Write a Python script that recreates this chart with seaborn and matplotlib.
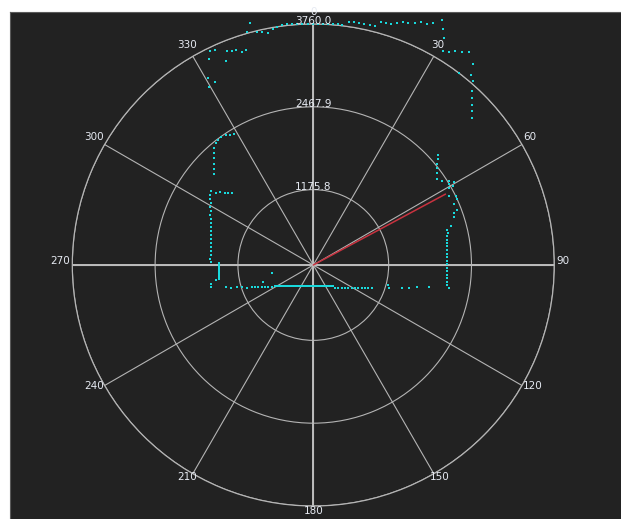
import numpy as np
import pandas as pd
import matplotlib
matplotlib.use("Agg")
import matplotlib.pyplot as plt
import seaborn as sns

# lidar scan, angle in degrees (clockwise from north) and distance in mm
top_arc_deg = [345.3, 344.2, 346.4, 347.6, 349.0, 350.3, 351.4, 352.6, 353.8, 355.0,
               356.2, 357.4, 358.7, 359.9, 1.0, 2.2, 3.4, 4.6, 5.8, 6.9,
               8.3, 9.5, 10.6, 11.8, 13.2, 14.5, 15.5, 16.7, 17.9, 19.1,
               20.3, 21.4, 22.8, 24.0, 25.3, 26.4]
top_arc_mm = [3902, 3773, 3739, 3716, 3688, 3740, 3755, 3775, 3781, 3774,
              3768, 3764, 3761, 3760, 3760, 3763, 3766, 3772, 3774, 3776,
              3827, 3838, 3836, 3841, 3850, 3850, 3930, 3941, 3950, 3995,
              4036, 4056, 4095, 4143, 4157, 4214]

top_right_deg = [27.6, 28.8, 30.0, 31.2, 32.5, 33.6, 34.9, 36.1, 38.5, 37.3,
                 39.7, 41.0, 42.3, 43.5, 44.7, 45.8, 47.1]
top_right_mm = [4320, 4207, 4093, 3897, 3940, 4000, 4053, 4113, 3998, 3763,
                3856, 3794, 3674, 3593, 3516, 3444, 3373]

top_left_deg = [334.3, 335.5, 338.0, 339.2, 340.3, 341.5, 342.7, 333.1, 336.8, 330.6,
                331.8, 329.6]
top_left_mm = [3700, 3691, 3596, 3566, 3563, 3504, 3513, 3608, 3457, 3351,
               3239, 3218]

left_upper_deg = [328.7, 327.3, 326.1, 324.2, 322.8, 321.3, 319.7, 318.5, 317.1, 315.7,
                  314.1, 312.6]
left_upper_mm = [2385, 2409, 2439, 2462, 2453, 2434, 2387, 2329, 2271, 2209,
                 2151, 2097]

left_wall_deg = [306.6, 307.8, 309.2, 310.4, 311.4, 305.8, 304.2, 302.7, 301.1, 299.4,
                 297.7, 295.9, 294.1, 292.2, 290.3, 288.3, 286.3, 284.2, 282.1, 279.9,
                 277.7, 275.6, 273.3, 271.7]
left_wall_mm = [1891, 1849, 1786, 1739, 1691, 1976, 1941, 1906, 1873, 1841,
                1811, 1783, 1757, 1732, 1710, 1689, 1671, 1654, 1640, 1628,
                1618, 1611, 1607, 1604]

left_post_deg = [271.2, 270.0, 268.8, 267.6, 266.4, 265.2, 264.0, 262.8, 261.6, 261.1,
                 259.3, 257.7]
left_post_mm = [1476, 1476, 1476, 1477, 1479, 1481, 1484, 1488, 1491, 1541,
                1624, 1633]

bottom_left_deg = [255.7, 254.4, 253.9, 252.6, 251.0, 250.6, 249.6, 248.5, 247.2, 245.8,
                   244.3, 242.4, 251.7, 259.5]
bottom_left_mm = [1410, 1337, 1239, 1165, 1099, 1019, 970, 922, 874, 827,
                  780, 735, 831, 660]

bottom_centre_deg = [241.6, 240.3, 238.9, 237.4, 235.7, 233.8, 231.8, 229.6, 227.1, 224.4,
                     221.5, 218.2, 214.6, 210.7, 206.5, 201.9, 196.9, 191.7, 186.3, 180.8,
                     175.3, 169.9, 164.6, 159.6, 154.9, 150.5, 146.5, 142.8, 139.5, 136.4]
bottom_centre_mm = [679, 652, 625, 599, 573, 547, 522, 498, 475, 452,
                    431, 411, 393, 376, 361, 348, 338, 330, 325, 323,
                    324, 328, 335, 345, 357, 371, 387, 405, 425, 446]

bottom_right_deg = [137.0, 133.0, 129.4, 126.3, 123.6, 121.2, 119.2, 117.4, 115.7, 114.3,
                    113.0, 111.8, 104.9, 107.0, 104.3, 103.3, 101.9, 100.6]
bottom_right_mm = [497, 533, 573, 614, 656, 701, 745, 790, 838, 885,
                   932, 981, 1211, 1240, 1433, 1539, 1648, 1841]

right_wall_deg = [48.5, 49.6, 50.8, 52.1, 53.5, 55.3, 56.7, 58.2, 59.4, 59.1,
                  60.5, 60.5, 62.9, 64.1, 65.4, 66.7, 69.0, 69.9, 71.1, 74.0,
                  75.3, 76.7, 77.7, 79.2, 80.6, 82.1, 83.6, 85.1, 86.6, 88.1,
                  89.6, 91.1, 92.6, 94.1, 95.6, 97.1, 98.5, 99.7]
right_wall_mm = [2591, 2549, 2485, 2453, 2405, 2356, 2396, 2486, 2555, 2461,
                 2510, 2428, 2373, 2470, 2471, 2395, 2396, 2343, 2325, 2229,
                 2151, 2154, 2130, 2119, 2109, 2101, 2094, 2089, 2085, 2082,
                 2081, 2082, 2083, 2086, 2091, 2097, 2104, 2148]

heading_deg = [61.8, 61.8]
heading_mm = [0, 2340]

ring_values = [1175.8, 2467.9, 3760.0]
angle_ticks = list(range(0, 360, 30))
main_axes = [0, 90, 180, 270]

BG = "#222222"
GRID = "#b4b4b4"
TEXT = "#e6eaf2"
CYAN = "#19d9dc"
RED = "#c8323f"
PX = 0.72  # points per pixel at dpi 100


def build_scan():
    groups = [
        (top_arc_deg, top_arc_mm), (top_right_deg, top_right_mm),
        (top_left_deg, top_left_mm), (left_upper_deg, left_upper_mm),
        (left_wall_deg, left_wall_mm), (left_post_deg, left_post_mm),
        (bottom_left_deg, bottom_left_mm), (bottom_centre_deg, bottom_centre_mm),
        (bottom_right_deg, bottom_right_mm), (right_wall_deg, right_wall_mm),
    ]
    frames = [pd.DataFrame({"deg": d, "mm": m}) for d, m in groups]
    df = pd.concat(frames, ignore_index=True)
    df["theta"] = np.deg2rad(df["deg"])
    return df


def main():
    scan = build_scan()

    sns.set_style("dark")
    plt.rcParams["font.family"] = ["DejaVu Sans"]

    fig = plt.figure(figsize=(6.21, 5.19), dpi=100, facecolor="white")

    bg = fig.add_axes([10 / 621, 0, 611 / 621, 507 / 519])
    bg.set_facecolor(BG)
    bg.set_xticks([])
    bg.set_yticks([])
    for side in ["right", "bottom"]:
        bg.spines[side].set_visible(False)
    for side in ["left", "top"]:
        bg.spines[side].set_color("#5a5a5a")

    ax = fig.add_axes([72.3 / 621, 13 / 519, 482 / 621, 482 / 519], projection="polar")
    ax.set_facecolor("none")
    ax.set_theta_zero_location("N")
    ax.set_theta_direction(-1)
    ax.set_ylim(0, 3760)

    ax.set_xticks(np.deg2rad(angle_ticks))
    ax.set_xticklabels([])
    ax.tick_params(axis="x", length=0)
    ax.set_yticks(ring_values)
    ax.set_yticklabels([])
    ax.grid(True, color=GRID, linewidth=0.8)
    ax.spines["polar"].set_color(GRID)
    ax.spines["polar"].set_linewidth(0.9)

    for a in main_axes:
        ax.plot(np.deg2rad([a, a]), [0, 3760], color="#bcbcbc", linewidth=1.4, zorder=1)

    # angle labels sit just outside the rim, nudged upward like the Qt chart
    for a in angle_ticks:
        t = np.deg2rad(a)
        label = str(a)
        half = len(label) * 3.3 + 2.0
        dx = np.sin(t) * half
        dy = np.cos(t) * 8.25 + 3.75
        ax.annotate(label, xy=(t, 3760), xytext=(dx * PX, dy * PX),
                    textcoords="offset points", ha="center", va="center",
                    color=TEXT, fontsize=7.5, annotation_clip=False)

    for v in ring_values:
        ax.text(0, v, f"{v:.1f}", ha="center", va="baseline", color=TEXT,
                fontsize=7.5, zorder=5)

    sns.scatterplot(data=scan, x="theta", y="mm", ax=ax, color=CYAN, marker="s",
                    s=2.6, linewidth=0, clip_on=False, zorder=3, legend=False)

    ax.plot(np.deg2rad(heading_deg), heading_mm, color=RED, linewidth=1.1, zorder=4)

    ax.set_xlabel("")
    ax.set_ylabel("")

    fig.savefig("out.png", dpi=100, facecolor="white")
    plt.close(fig)


if __name__ == "__main__":
    main()
